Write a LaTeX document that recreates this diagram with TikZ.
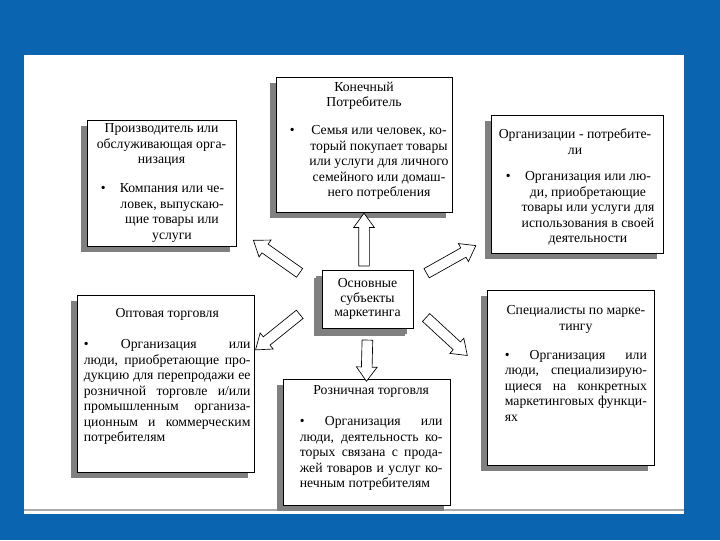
\documentclass[tikz,border=0pt]{standalone}
\usepackage{fontspec}
\setmainfont{Liberation Serif}
\usetikzlibrary{shapes.arrows,shadows,calc}
\definecolor{slideblue}{RGB}{10,100,175}
\definecolor{shadegray}{RGB}{128,128,128}
\definecolor{rulegray}{RGB}{170,170,170}
\newcommand{\boxfont}{\fontsize{10.3}{11.6}\selectfont}
\newcommand{\blockarrow}[3]{%
  \path let \p1=#2, \p2=#3,
    \n1={atan2(\y2-\y1,\x2-\x1)}, \n2={veclen(\x2-\x1,\y2-\y1)} in
    node[hollow, rotate=\n1, minimum height=\n2] (#1) at ($(\p1)!0.5!(\p2)$) {};}

\begin{document}
\begin{tikzpicture}[x=0.75pt, y=-0.75pt,
      panel/.style={draw=black, line width=0.6pt, fill=white, inner sep=0pt,
                    drop shadow={shadow xshift=-4.5pt, shadow yshift=-4.5pt,
                                 fill=shadegray, opacity=1}},
      heading/.style={inner sep=0pt, align=center, font=\boxfont},
      justtext/.style={inner sep=0pt, align=justify, font=\boxfont},
      dot/.style={inner sep=0pt, font=\boxfont},
      hollow/.style={single arrow, draw=black, fill=white, line width=0.5pt,
                     inner xsep=0pt, inner ysep=3.75pt, single arrow head extend=3.75pt,
                     single arrow tip angle=72, single arrow head indent=0pt}
    ]
    \useasboundingbox (0,0) rectangle (720,540);
    \fill[slideblue] (0,0) rectangle (720,540);
    \fill[white] (24,55) rectangle (684,514);
    \draw[rulegray, line width=0.8pt] (24,510) -- (684,510);

    \node[panel, minimum width=111.75pt, minimum height=94.5pt] (prod) at (161.5,183) {};
    \node[panel, minimum width=132pt, minimum height=101.25pt] (cons) at (364,144.5) {};
    \node[panel, minimum width=129pt, minimum height=103.5pt] (org) at (577,184) {};
    \node[panel, minimum width=132.75pt, minimum height=132.75pt] (whole) at (165.5,383.5) {};
    \node[panel, minimum width=125.25pt, minimum height=94.5pt] (retail) at (366.5,442) {};
    \node[panel, minimum width=125.25pt, minimum height=131.25pt] (spec) at (570.5,377.5) {};
    \node[panel, minimum width=68.25pt, minimum height=43.5pt, align=center,
          font=\fontsize{10.3}{10.9}\selectfont,
          drop shadow={shadow xshift=-6pt, shadow yshift=-6pt, fill=shadegray, opacity=1}]
          (hub) at (367.5,299) {Основные\\субъекты\\маркетинга};

    \node[heading, anchor=north] (prod-t) at ($(prod.north)+(0,4)$)
      {Производитель или\\обслуживающая орга-\\низация};
    \node[dot, anchor=base west] (prod-b) at ($(prod.north west)+(14,73)$) {\textbullet};
    \node[heading, anchor=north] (prod-d) at ($(prod.north)+(10.5,64)$)
      {Компания или че-\\ловек, выпускаю-\\щие товары или\\услуги};

    \node[heading, anchor=north] (cons-t) at ($(cons.north)+(0,5)$)
      {Конечный\\Потребитель};
    \node[dot, anchor=base west] (cons-b) at ($(cons.north west)+(14,58)$) {\textbullet};
    \node[heading, anchor=north] (cons-d) at ($(cons.north)+(15,49)$)
      {Семья или человек, ко-\\торый покупает товары\\или услуги для личного\\семейного или домаш-\\него потребления};

    \node[heading, anchor=north] (org-t) at ($(org.north)+(-2,14)$)
      {Организации - потребите-\\ли};
    \node[dot, anchor=base west] (org-b) at ($(org.north west)+(15,66)$) {\textbullet};
    \node[heading, anchor=north] (org-d) at ($(org.north)+(11,57)$)
      {Организация или лю-\\ди, приобретающие\\товары или услуги для\\использования в своей\\деятельности};

    \node[justtext, text width=125pt, anchor=north west] (whole-t) at ($(whole.north west)+(7,14)$) {%
      {\centering Оптовая торговля\par}\vspace{11.65pt}
      \textbullet\ Организация или\linebreak
      люди, приобретающие про-\linebreak
      дукцию для перепродажи ее\linebreak
      розничной торговле и/или\linebreak
      промышленным организа-\linebreak
      ционным и коммерческим\linebreak
      потребителям};

    \node[justtext, text width=107pt, anchor=north west] (retail-t) at ($(retail.north west)+(17,7)$) {%
      {\centering Розничная торговля\par}\vspace{11.65pt}
      \textbullet\ Организация или\linebreak
      люди, деятельность ко-\linebreak
      торых связана с прода-\linebreak
      жей товаров и услуг ко-\linebreak
      нечным потребителям};

    \node[justtext, text width=106.5pt, anchor=north west] (spec-t) at ($(spec.north west)+(18,16)$) {%
      {\centering Специалисты по марке-\\тингу\par}\vspace{10.15pt}
      \textbullet\ Организация или\linebreak
      люди, специализирую-\linebreak
      щиеся на конкретных\linebreak
      маркетинговых функци-\linebreak
      ях};

    \blockarrow{toCons}{($(hub.north)+(-3.5,0)$)}{($(cons.south)+(0,4.5)$)}
    \blockarrow{toRetail}{($(hub.south)+(0,8)$)}{($(retail.north)+(0,-1)$)}
    \blockarrow{toProd}{($(hub.west)+(-19,-24)$)}{($(prod.south east)+(20,-4)$)}
    \blockarrow{toOrg}{($(hub.east)+(10,-24)$)}{($(org.south west)+(-18,-6)$)}
    \blockarrow{toWhole}{($(hub.west)+(-19,13)$)}{($(whole.north east)+(4,53)$)}
    \blockarrow{toSpec}{($(hub.east)+(10,16)$)}{($(spec.west)+(-22,-24.5)$)}
  \end{tikzpicture}
\end{document}
